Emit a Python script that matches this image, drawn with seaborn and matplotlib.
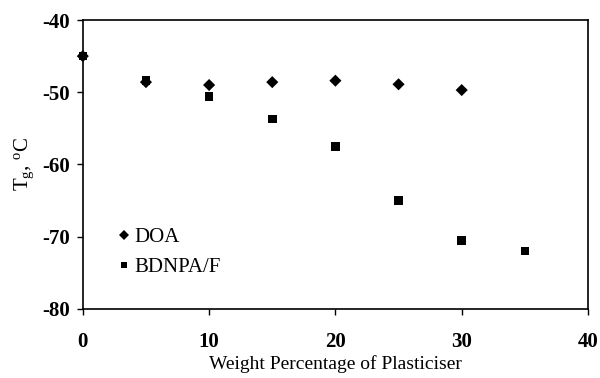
import matplotlib
matplotlib.use("Agg")
import matplotlib.pyplot as plt
import seaborn as sns
import pandas as pd

# Glass transition temperature vs plasticiser content
doa_pct = [0, 5, 10, 15, 20, 25, 30]
doa_tg = [-45.0, -48.6, -49.0, -48.6, -48.4, -48.9, -49.7]
bdnpa_pct = [0, 5, 10, 15, 20, 25, 30, 35]
bdnpa_tg = [-45.0, -48.4, -50.6, -53.7, -57.5, -65.0, -70.5, -72.0]
series_names = ["DOA", "BDNPA/F"]

df = pd.concat([
    pd.DataFrame({"pct": doa_pct, "tg": doa_tg, "series": series_names[0]}),
    pd.DataFrame({"pct": bdnpa_pct, "tg": bdnpa_tg, "series": series_names[1]}),
])

sns.set_style("ticks")
plt.rcParams["font.family"] = ["Liberation Serif", "DejaVu Serif"]
plt.rcParams["mathtext.fontset"] = "custom"
plt.rcParams["mathtext.rm"] = "Liberation Serif"
plt.rcParams["mathtext.it"] = "Liberation Serif:italic"
plt.rcParams["axes.unicode_minus"] = False
for key in ["text.color", "axes.labelcolor", "xtick.color", "ytick.color"]:
    plt.rcParams[key] = "black"

fig = plt.figure(figsize=(6.0, 3.78), dpi=100)
ax = fig.add_axes([0.138, 0.183, 0.842, 0.764])

sns.scatterplot(data=df, x="pct", y="tg", style="series", hue="series",
                palette=["black", "black"], markers={"DOA": "D", "BDNPA/F": "s"},
                s=38, edgecolor="black", linewidth=0, ax=ax, legend=True,
                clip_on=False, zorder=5)

ax.set_xlim(0, 40)
ax.set_ylim(-80, -40)
ax.set_xticks([0, 10, 20, 30, 40])
ax.set_yticks([-80, -70, -60, -50, -40])
for lab in ax.get_xticklabels() + ax.get_yticklabels():
    lab.set_fontweight("bold")
    lab.set_fontsize(15)
ax.tick_params(axis="both", direction="out", length=4, width=1, colors="black")
ax.tick_params(axis="y", pad=5)
ax.tick_params(axis="x", pad=13)

for sp in ax.spines.values():
    sp.set_visible(True)
    sp.set_color("black")
    sp.set_linewidth(1.2)

ax.set_xlabel("Weight Percentage of Plasticiser", fontsize=14, labelpad=2)
ax.set_ylabel(r"T$_{\mathrm{g}}$, $^{\mathrm{o}}$C", fontsize=15, labelpad=5)

leg = ax.legend(loc="lower left", bbox_to_anchor=(0.048, 0.08), frameon=False,
                fontsize=15, handletextpad=0.1, handlelength=0.8,
                labelspacing=0.5, markerscale=0.75, borderaxespad=0)

fig.savefig("out.png", dpi=100)
